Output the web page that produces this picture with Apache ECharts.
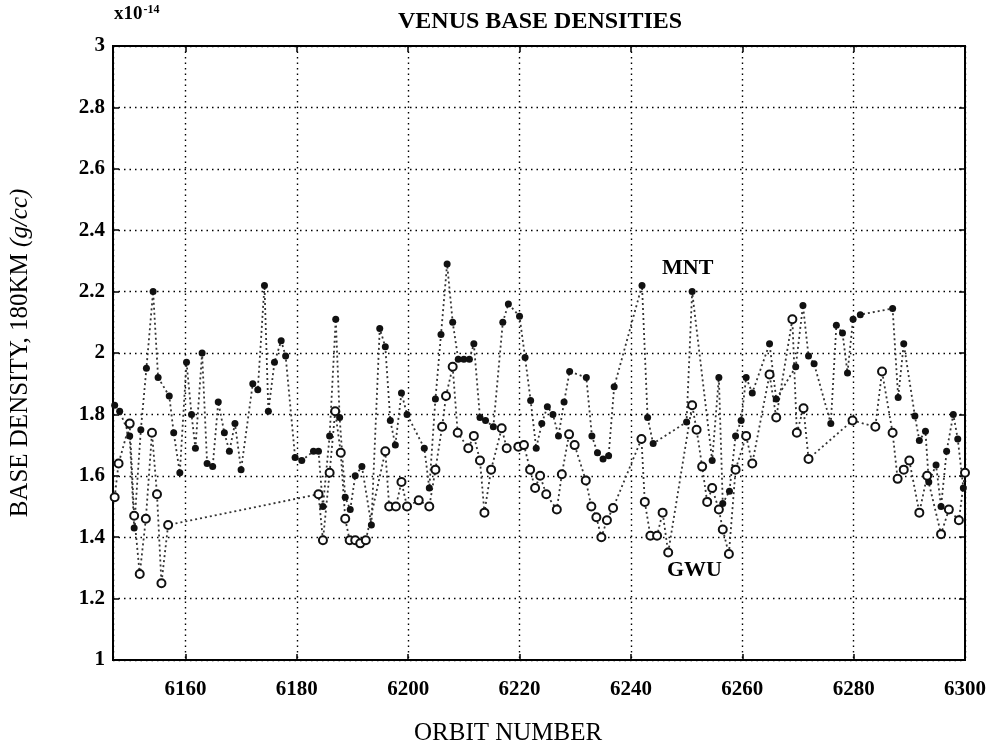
<!DOCTYPE html>
<html lang="en">
<head>
    <meta charset="UTF-8">
    <title>Venus Base Densities</title>
    <style type="text/css">
        html, body { margin: 0; padding: 0; background: #fff; }
        #main { width: 995px; height: 753px; }
    </style>
</head>
<body>
    <div id="main"></div>
    <script src="https://cdn.jsdelivr.net/npm/echarts@6/dist/echarts.min.js"></script>
    <script type="text/javascript">
        // MNT model (filled dots)
        var mntOrbit = [6147.3, 6148.2, 6150.0, 6150.8, 6152.0, 6153.0, 6154.2, 6155.1, 6157.1, 6157.9,
            6159.0, 6160.2, 6161.1, 6161.8, 6163.0, 6163.9, 6164.9, 6165.9, 6167.0, 6167.9,
            6168.9, 6170.0, 6172.1, 6173.0, 6174.2, 6174.9, 6176.0, 6177.2, 6178.0, 6179.7,
            6180.9, 6183.0, 6183.9, 6184.7, 6185.9, 6187.0, 6187.7, 6188.7, 6189.6, 6190.5,
            6191.7, 6193.4, 6194.9, 6195.9, 6196.8, 6197.7, 6198.8, 6199.8, 6202.9, 6203.8,
            6204.9, 6205.9, 6207.0, 6208.0, 6209.0, 6210.0, 6211.0, 6211.8, 6212.9, 6213.9,
            6215.3, 6217.0, 6218.0, 6220.0, 6221.0, 6222.0, 6223.0, 6224.0, 6225.0, 6226.0,
            6227.0, 6228.0, 6229.0, 6232.0, 6233.0, 6234.0, 6235.0, 6236.0, 6237.0, 6242.0,
            6243.0, 6244.0, 6250.0, 6251.0, 6254.6, 6255.8, 6256.5, 6257.7, 6258.8, 6259.8,
            6260.7, 6261.8, 6264.9, 6266.1, 6269.6, 6270.9, 6271.9, 6272.9, 6275.9, 6276.9,
            6278.0, 6278.9, 6279.9, 6281.2, 6287.0, 6288.0, 6289.0, 6291.0, 6291.8, 6292.9,
            6293.5, 6294.8, 6295.7, 6296.7, 6297.9, 6298.7, 6299.7];
        var mntDensity = [1.83, 1.81, 1.73, 1.43, 1.75, 1.95, 2.20, 1.92, 1.86, 1.74,
            1.61, 1.97, 1.80, 1.69, 2.00, 1.64, 1.63, 1.84, 1.74, 1.68,
            1.77, 1.62, 1.90, 1.88, 2.22, 1.81, 1.97, 2.04, 1.99, 1.66,
            1.65, 1.68, 1.68, 1.50, 1.73, 2.11, 1.79, 1.53, 1.49, 1.60,
            1.63, 1.44, 2.08, 2.02, 1.78, 1.70, 1.87, 1.80, 1.69, 1.56,
            1.85, 2.06, 2.29, 2.10, 1.98, 1.98, 1.98, 2.03, 1.79, 1.78,
            1.76, 2.10, 2.16, 2.12, 1.985, 1.845, 1.69, 1.77, 1.825, 1.80,
            1.73, 1.84, 1.94, 1.92, 1.73, 1.675, 1.655, 1.665, 1.89, 2.22,
            1.79, 1.705, 1.775, 2.20, 1.65, 1.92, 1.51, 1.55, 1.73, 1.78,
            1.92, 1.87, 2.03, 1.85, 1.955, 2.155, 1.99, 1.965, 1.77, 2.09,
            2.065, 1.935, 2.11, 2.125, 2.145, 1.855, 2.03, 1.795, 1.715, 1.745,
            1.58, 1.635, 1.50, 1.68, 1.80, 1.72, 1.56];

        // GWU model (open circles)
        var gwuOrbit = [6147.3, 6148.0, 6150.0, 6150.8, 6151.8, 6152.9, 6154.0, 6154.9, 6155.7, 6156.9,
            6183.9, 6184.7, 6185.9, 6186.9, 6187.9, 6188.7, 6189.5, 6190.5, 6191.4, 6192.4,
            6195.9, 6196.6, 6197.8, 6198.8, 6199.8, 6201.9, 6203.8, 6204.9, 6206.1, 6206.8,
            6208.0, 6208.9, 6210.8, 6211.8, 6212.9, 6213.7, 6214.9, 6216.8, 6217.7, 6219.8,
            6220.8, 6221.9, 6222.8, 6223.7, 6224.8, 6226.7, 6227.6, 6228.9, 6229.9, 6231.9,
            6232.9, 6233.8, 6234.7, 6235.7, 6236.8, 6241.9, 6242.5, 6243.5, 6244.7, 6245.7,
            6246.7, 6251.0, 6251.8, 6252.8, 6253.7, 6254.6, 6255.8, 6256.5, 6257.6, 6258.8,
            6260.7, 6261.8, 6264.9, 6266.1, 6269.0, 6269.8, 6271.0, 6271.9, 6279.8, 6283.9,
            6285.1, 6287.0, 6287.9, 6289.0, 6290.0, 6291.8, 6293.2, 6295.7, 6297.1, 6298.9,
            6300.0];
        var gwuDensity = [1.53, 1.64, 1.77, 1.47, 1.28, 1.46, 1.74, 1.54, 1.25, 1.44,
            1.54, 1.39, 1.61, 1.81, 1.675, 1.46, 1.39, 1.39, 1.38, 1.39,
            1.68, 1.50, 1.50, 1.58, 1.50, 1.52, 1.50, 1.62, 1.76, 1.86,
            1.955, 1.74, 1.69, 1.73, 1.65, 1.48, 1.62, 1.755, 1.69, 1.695,
            1.70, 1.62, 1.56, 1.60, 1.54, 1.49, 1.605, 1.735, 1.70, 1.585,
            1.50, 1.465, 1.40, 1.455, 1.495, 1.72, 1.515, 1.405, 1.405, 1.48,
            1.35, 1.83, 1.75, 1.63, 1.515, 1.56, 1.49, 1.425, 1.345, 1.62,
            1.73, 1.64, 1.93, 1.79, 2.11, 1.74, 1.82, 1.655, 1.78, 1.76,
            1.94, 1.74, 1.59, 1.62, 1.65, 1.48, 1.60, 1.41, 1.49, 1.455,
            1.61];

        var xMin = 6147, xMax = 6300;
        var yMin = 1, yMax = 3, yStep = 0.2;

        var serif = '"Liberation Serif", "DejaVu Serif", serif';

        function pairs(xs, ys) {
            var out = [];
            for (let i = 0; i < xs.length; i++) {
                out.push([xs[i], ys[i]]);
            }
            return out;
        }

        var myChart = echarts.init(document.getElementById('main'));

        var dotted = { color: '#000', width: 1.4, type: [1.5, 4] };
        var tickStyle = { show: true, inside: true, length: 6, lineStyle: { color: '#000', width: 1.5 } };

        var option = {
            animation: false,
            backgroundColor: '#fff',
            grid: {
                left: 113, right: 30, top: 46, bottom: 93,
                show: true, borderColor: '#000', borderWidth: 2, backgroundColor: 'transparent'
            },
            xAxis: [{
                type: 'value', min: xMin, max: xMax, splitNumber: 8,
                axisLine: { show: false },
                axisTick: tickStyle,
                axisLabel: {
                    margin: 19, color: '#000', fontFamily: serif, fontSize: 21, fontWeight: 'bold',
                    formatter: function (v) { return v % 20 === 0 ? String(v) : ''; }
                },
                splitLine: { show: true, lineStyle: dotted }
            }, {
                type: 'value', min: xMin, max: xMax, splitNumber: 8, position: 'top',
                axisLine: { show: false },
                axisTick: tickStyle,
                axisLabel: { show: false },
                splitLine: { show: false }
            }],
            yAxis: [{
                type: 'value', min: yMin, max: yMax, interval: yStep,
                axisLine: { show: false },
                axisTick: tickStyle,
                axisLabel: {
                    margin: 8, color: '#000', fontFamily: serif, fontSize: 21, fontWeight: 'bold',
                    formatter: function (v) { return String(Math.round(v * 10) / 10); }
                },
                splitLine: { show: true, lineStyle: dotted },
                name: 'BASE DENSITY, 180KM {i|(g/cc)}', nameLocation: 'middle', nameGap: 80, nameRotate: 90,
                nameTextStyle: {
                    color: '#000', fontFamily: serif, fontSize: 25,
                    rich: { i: { fontFamily: serif, fontSize: 25, fontStyle: 'italic', color: '#000' } }
                }
            }, {
                type: 'value', min: yMin, max: yMax, interval: yStep, position: 'right',
                axisLine: { show: false },
                axisTick: tickStyle,
                axisLabel: { show: false },
                splitLine: { show: false }
            }],
            graphic: [
                {
                    type: 'text', left: 398, top: 10,
                    style: { text: 'VENUS BASE DENSITIES', fill: '#000', font: 'bold 24px ' + serif }
                },
                {
                    type: 'text', left: 114, top: 4,
                    style: {
                        text: 'x10{s|-14}', fill: '#000', font: 'bold 19px ' + serif,
                        rich: { s: { fontSize: 12, fontFamily: serif, fontWeight: 'bold', verticalAlign: 'top', fill: '#000', padding: [0, 0, 9, 1] } }
                    }
                },
                {
                    type: 'text', left: 414, top: 721,
                    style: { text: 'ORBIT NUMBER', fill: '#000', font: '25px ' + serif }
                },
                {
                    type: 'text', left: 662, top: 257,
                    style: { text: 'MNT', fill: '#000', font: 'bold 22px ' + serif }
                },
                {
                    type: 'text', left: 667, top: 559,
                    style: { text: 'GWU', fill: '#000', font: 'bold 22px ' + serif }
                }
            ],
            series: [
                {
                    name: 'MNT', type: 'line', xAxisIndex: 0, yAxisIndex: 0,
                    data: pairs(mntOrbit, mntDensity),
                    symbol: 'circle', symbolSize: 7,
                    itemStyle: { color: '#111' },
                    lineStyle: { color: '#333', width: 1.8, type: [2, 3] }
                },
                {
                    name: 'GWU', type: 'line', xAxisIndex: 0, yAxisIndex: 0,
                    data: pairs(gwuOrbit, gwuDensity),
                    symbol: 'emptyCircle', symbolSize: 8,
                    itemStyle: { color: '#111', borderColor: '#111', borderWidth: 2 },
                    lineStyle: { color: '#333', width: 1.8, type: [2, 3] }
                }
            ]
        };

        myChart.setOption(option);
    </script>
</body>
</html>
